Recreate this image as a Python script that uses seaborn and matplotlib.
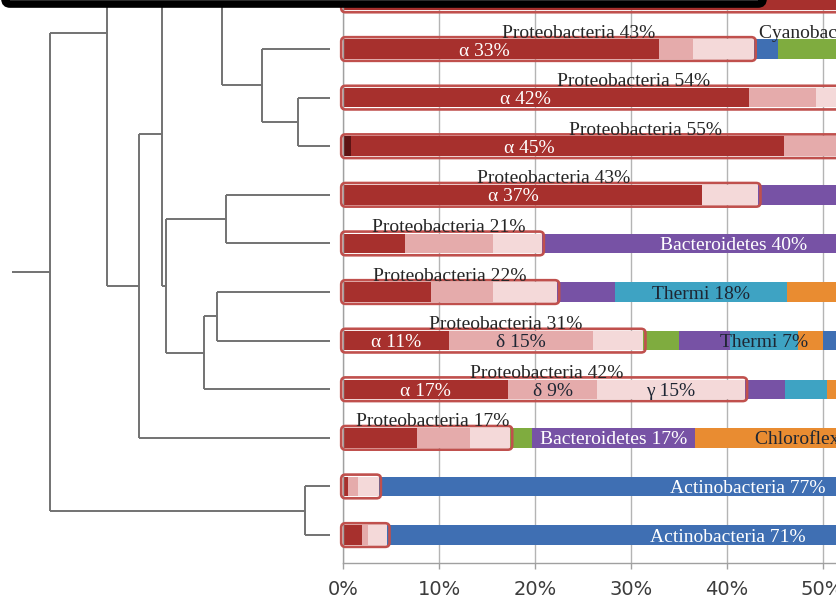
import matplotlib
matplotlib.use("Agg")
import numpy as np
import pandas as pd
import matplotlib.pyplot as plt
import seaborn as sns
from matplotlib.patches import FancyBboxPatch

# ======================================
# Data (percent of reads per sample)
# ======================================

samples = ["S01", "S02", "S03", "S04", "S05", "S06",
           "S07", "S08", "S09", "S10", "S11", "S12"]

# Proteobacteria classes
beta = [0, 0, 0, 0.8, 0, 0, 0, 0, 0, 0, 0, 0]
alpha = [56.0, 32.9, 42.3, 45.2, 37.4, 6.4, 9.2, 11.0, 17.2, 7.7, 0.5, 2.0]
delta = [4.0, 3.6, 7.0, 6.0, 0.0, 9.2, 6.4, 15.0, 9.3, 5.5, 1.0, 0.6]
gamma = [2.0, 6.3, 4.7, 3.0, 5.9, 5.1, 6.7, 5.3, 15.4, 4.2, 2.2, 2.0]

# other phyla
actinobacteria = [0, 2.6, 0, 0, 0, 0, 0, 0, 0, 0, 77.0, 71.0]
cyanobacteria = [0, 12.0, 0, 0, 0, 0, 0, 3.7, 0, 2.3, 0, 0]
bacteroidetes = [0, 0, 0, 0, 30.0, 40.0, 6.0, 5.3, 4.2, 17.0, 0, 0]
thermi = [0, 0, 0, 0, 0, 0, 18.0, 7.1, 4.4, 0, 0, 0]
chloroflexi = [0, 0, 0, 0, 0, 0, 10.0, 2.6, 8.0, 26.0, 0, 0]
other = [0, 0, 0, 0, 0, 0, 0, 5.0, 0, 0, 0, 0]

# which proteobacteria classes get a label inside the bar
sub_labels = ["", "α", "α", "α", "α", "", "", "αδ", "αδγ", "", "", ""]

# phylum labels: (row, phylum)
phylum_labels = [
    (1, "Cyanobacteria"),
    (5, "Bacteroidetes"),
    (6, "Thermi"),
    (7, "Thermi"),
    (9, "Bacteroidetes"),
    (9, "Chloroflexi"),
    (10, "Actinobacteria"),
    (11, "Actinobacteria"),
]
labels_above = [(1, "Cyanobacteria")]

# small manual shifts of captions (in %)
proteo_label_shift = [0, 3.1, 3.3, 4.0, 0.3, 0.7, 0, 1.3, 0.3, 0.6, 0, 0]
alpha_label_shift = [0, -1.7, -2.1, -4.0, -1.0, 0, 0, 0, 0, 0, 0, 0]

# dendrogram: node -> (height, child, child); int = sample row
tree_nodes = {
    "A": (0.101, 2, 3),
    "B": (0.214, 1, "A"),
    "C": (0.340, "c_up", "B"),
    "Z": (0.200, "z_up", 0),
    "D": (0.327, 4, 5),
    "E": (0.355, 6, 7),
    "F": (0.396, "E", 8),
    "G": (0.516, "D", "F"),
    "H": (0.528, "C", "G"),
    "I": (0.601, "H", 9),
    "J": (0.701, "j_up", "I"),
    "M": (0.079, 10, 11),
    "K": (0.881, "J", "M"),
}
# branches that continue above the cropped top edge (row position)
cropped = {"c_up": -2.5, "j_up": -4.53, "z_up": -1.0}
root_node = "K"

ticks = [0, 10, 20, 30, 40, 50]

# ======================================
# Styling
# ======================================

colors = {
    "β": "#5e1414",
    "α": "#a7302d",
    "δ": "#e5abab",
    "γ": "#f4d9d9",
    "Actinobacteria": "#3f6fb3",
    "Cyanobacteria": "#7fac3f",
    "Bacteroidetes": "#7752a5",
    "Thermi": "#3ea3c3",
    "Chloroflexi": "#e98c31",
    "Other": "#3f6fb3",
}
light_text = {"α", "β", "Actinobacteria", "Bacteroidetes"}
DARK = "#1e2633"

sns.set_theme(style="white")
plt.rcParams["font.family"] = ["Liberation Serif", "DejaVu Serif"]

df = pd.DataFrame({
    "β": beta, "α": alpha, "δ": delta, "γ": gamma,
    "Actinobacteria": actinobacteria,
    "Cyanobacteria": cyanobacteria,
    "Bacteroidetes": bacteroidetes,
    "Thermi": thermi,
    "Chloroflexi": chloroflexi,
    "Other": other,
}, index=samples)
cum = df.cumsum(axis=1)
starts = cum - df
cum_long = cum.reset_index().rename(columns={"index": "sample"})

# ======================================
# Figure
# ======================================

W, H = 836, 602
fig = plt.figure(figsize=(W / 100, H / 100), dpi=100)

x0_px, axis_px = 343.3, 563
top_row, bottom_row = -0.5, 11.575
ax_b = fig.add_axes([x0_px / W, (H - axis_px) / H,
                     1 - x0_px / W, (axis_px + 23.9) / H])
ax_t = fig.add_axes([0, (H - axis_px) / H, 330 / W, (axis_px + 23.9) / H])

# stacked bars: draw cumulative totals from the last layer backwards
for name in reversed(df.columns):
    sns.barplot(data=cum_long, x=name, y="sample", order=samples,
                orient="h", color=colors[name], saturation=1,
                width=0.4, linewidth=0, errorbar=None, ax=ax_b)

ax_b.set_xlim(0, 51.4)
ax_b.set_ylim(bottom_row, top_row)
ax_b.set_axisbelow(True)
ax_b.set_xticks(ticks)
ax_b.set_xticklabels([f"{t}%" for t in ticks], family="DejaVu Sans",
                     fontsize=14, color="#3c3c3c")
ax_b.set_yticks([])
ax_b.set_xlabel("")
ax_b.set_ylabel("")
ax_b.grid(axis="x", color="#b4b4b4", linewidth=1)
ax_b.grid(axis="y", visible=False)
for side in ["top", "right"]:
    ax_b.spines[side].set_visible(False)
for side in ["left", "bottom"]:
    ax_b.spines[side].set_color("#a0a0a0")
    ax_b.spines[side].set_linewidth(1)
ax_b.tick_params(axis="x", bottom=True, length=4, width=1,
                 color="#a0a0a0", pad=8)

proteo = df[["β", "α", "δ", "γ"]].sum(axis=1).values
aspect = 9.59 / 48.6  # rows per %-unit on screen

for i, tot in enumerate(proteo):
    box = FancyBboxPatch((0, i - 0.2), tot, 0.4,
                         boxstyle="round,pad=0.22,rounding_size=0.45",
                         mutation_aspect=aspect, facecolor="none",
                         edgecolor="#c0504d", linewidth=1.9,
                         clip_on=False, zorder=5)
    ax_b.add_patch(box)
    if 1 <= i <= 9:
        ax_b.text(tot / 2 + proteo_label_shift[i], i - 0.235,
                  f"Proteobacteria {tot:.0f}%", ha="center", va="baseline",
                  fontsize=14, color="#262626", zorder=6)
    for cls in sub_labels[i]:
        mid = starts.loc[samples[i], cls] + df.loc[samples[i], cls] / 2
        if cls == "α":
            mid += alpha_label_shift[i]
        ax_b.text(mid, i, f"{cls} {df.loc[samples[i], cls]:.0f}%",
                  ha="center", va="center_baseline", fontsize=14,
                  color="white" if cls in light_text else DARK, zorder=6)

for row, ph in phylum_labels:
    mid = starts.loc[samples[row], ph] + df.loc[samples[row], ph] / 2
    txt = f"{ph} {df.loc[samples[row], ph]:.0f}%"
    if (row, ph) in labels_above:
        ax_b.text(mid, row - 0.235, txt, ha="center", va="baseline",
                  fontsize=14, color="#262626", zorder=6)
    else:
        ax_b.text(mid, row, txt, ha="center", va="center_baseline",
                  fontsize=14,
                  color="white" if ph in light_text else DARK, zorder=6)

# ======================================
# Dendrogram
# ======================================

def node_pos(key):
    if isinstance(key, int):
        return 0.0, float(key)
    if key in cropped:
        return None, cropped[key]
    h, a, b = tree_nodes[key]
    return h, (node_pos(a)[1] + node_pos(b)[1]) / 2

line_kw = dict(color="#727272", linewidth=1.4, solid_capstyle="butt")
for key, (h, a, b) in tree_nodes.items():
    ya = node_pos(a)[1]
    yb = node_pos(b)[1]
    ax_t.plot([h, h], [ya, yb], **line_kw)
    for child in (a, b):
        ch, cy = node_pos(child)
        if ch is not None:
            ax_t.plot([h, ch], [cy, cy], **line_kw)

root_h, root_y = node_pos(root_node)
ax_t.plot([root_h, 1.0], [root_y, root_y], **line_kw)

ax_t.set_xlim(330 / 318, 0)
ax_t.set_ylim(bottom_row, top_row)
ax_t.axis("off")

# cropped frame edge at the top
frame = FancyBboxPatch((5 / W, (H - 4.0) / H), 758 / W, 0.3,
                       boxstyle="round,pad=0,rounding_size=0.006",
                       mutation_aspect=W / H, transform=fig.transFigure,
                       facecolor="white", edgecolor="black",
                       linewidth=5.5, zorder=20)
fig.patches.append(frame)

fig.savefig("out.png", dpi=100)
plt.close(fig)
